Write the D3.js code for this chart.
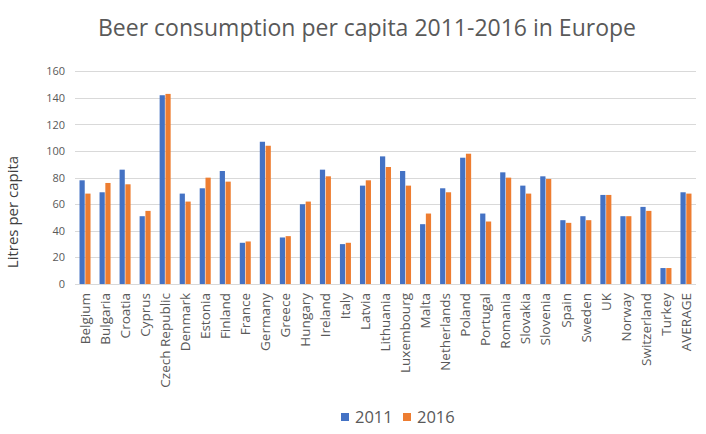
<!DOCTYPE html>
<html>
<head>
<meta charset="utf-8">
<script src="https://cdn.jsdelivr.net/npm/d3@7"></script>
<style>
  html, body { margin: 0; padding: 0; background: #fff; }
  svg { display: block; font-family: "Open Sans", "Noto Sans", sans-serif; }
</style>
</head>
<body>
<svg id="chart" width="706" height="434"></svg>
<script>
const categories = ["Belgium","Bulgaria","Croatia","Cyprus","Czech Republic","Denmark","Estonia","Finland","France","Germany","Greece","Hungary","Ireland","Italy","Latvia","Lithuania","Luxembourg","Malta","Netherlands","Poland","Portugal","Romania","Slovakia","Slovenia","Spain","Sweden","UK","Norway","Switzerland","Turkey","AVERAGE"];
const values2011 = [78,69,86,51,142,68,72,85,31,107,35,60,86,30,74,96,85,45,72,95,53,84,74,81,48,51,67,51,58,12,69];
const values2016 = [68,76,75,55,143,62,80,77,32,104,36,62,81,31,78,88,74,53,69,98,47,80,68,79,46,48,67,51,55,12,68];
const seriesNames = ["2011","2016"];
const seriesColors = ["#4472C4","#ED7D31"];
const yTicks = [0,20,40,60,80,100,120,140,160];

const svg = d3.select("#chart");
const x0 = 75, x1 = 696, yTop = 71.3, yBottom = 284;

const x = d3.scaleBand().domain(categories).range([x0, x1]).paddingInner(0.45).paddingOuter(0.225);
const xs = d3.scaleBand().domain(seriesNames).range([0, x.bandwidth()]).paddingInner(0.1);
const y = d3.scaleLinear().domain([0,160]).range([yBottom, yTop]);

// gridlines
svg.append("g").selectAll("line").data(yTicks).join("line")
  .attr("x1", x0).attr("x2", x1)
  .attr("y1", d => Math.round(y(d)) + 0.5).attr("y2", d => Math.round(y(d)) + 0.5)
  .attr("stroke", "#D9D9D9").attr("stroke-width", 1);

// y axis labels
const yAxis = d3.axisLeft(y).tickValues(yTicks).tickSize(0).tickPadding(10);
const ya = svg.append("g").attr("transform", `translate(${x0},0)`).call(yAxis);
ya.select(".domain").remove();
ya.selectAll("text").attr("fill", "#595959").style("font-size", "11px").style("font-family", "'Open Sans', sans-serif");

// bars
const series = [values2011, values2016];
series.forEach((vals, si) => {
  svg.append("g").selectAll("rect").data(categories).join("rect")
    .attr("x", (c) => x(c) + xs(seriesNames[si]))
    .attr("width", xs.bandwidth())
    .attr("y", (c, i) => y(vals[i]))
    .attr("height", (c, i) => y(0) - y(vals[i]))
    .attr("fill", seriesColors[si]);
});

// x axis labels
const xAxis = d3.axisBottom(x).tickSize(0).tickPadding(0);
const xa = svg.append("g").attr("transform", `translate(0,${yBottom})`).call(xAxis);
xa.select(".domain").remove();
xa.selectAll("text")
  .attr("transform", "rotate(-90)")
  .attr("text-anchor", "end")
  .attr("x", -9).attr("y", 0).attr("dy", "0.35em")
  .attr("fill", "#595959").style("font-size", "13.5px").style("font-family", "'Open Sans', sans-serif");

// title
svg.append("text").attr("x", 367).attr("y", 36).attr("text-anchor", "middle")
  .attr("fill", "#595959").style("font-size", "23px")
  .text("Beer consumption per capita 2011-2016 in Europe");

// y axis title
svg.append("text").attr("transform", "translate(18,212) rotate(-90)").attr("text-anchor", "middle")
  .attr("fill", "#404040").style("font-size", "15px")
  .text("Litres per capita");

// legend
const legend = svg.append("g");
const legendItems = [{name: "2011", color: seriesColors[0], x: 341}, {name: "2016", color: seriesColors[1], x: 403}];
legendItems.forEach(it => {
  legend.append("rect").attr("x", it.x).attr("y", 413).attr("width", 8).attr("height", 8).attr("fill", it.color);
  legend.append("text").attr("x", it.x + 14).attr("y", 423).attr("fill", "#595959").style("font-size", "16.5px").text(it.name);
});
</script>
</body>
</html>
